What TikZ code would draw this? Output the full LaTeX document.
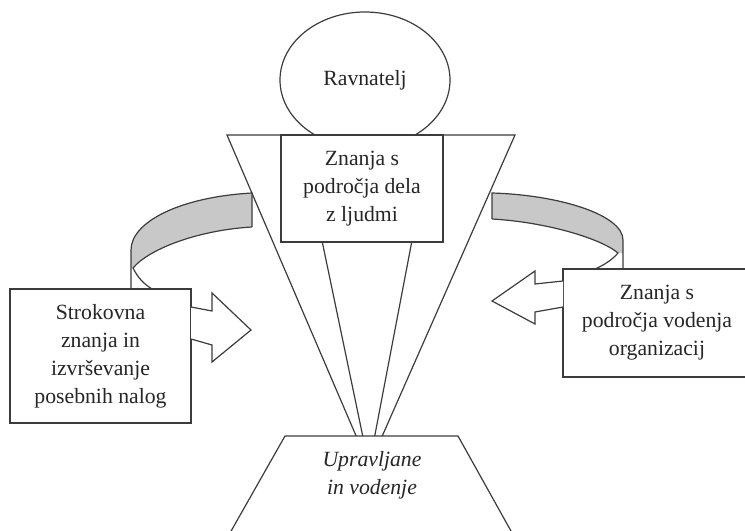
\documentclass[tikz,border=0pt]{standalone}
\usepackage{fontspec}
\setmainfont{Liberation Serif}
\usetikzlibrary{shapes.geometric}
\definecolor{linegray}{RGB}{60,60,60}
\definecolor{bandgray}{RGB}{200,200,200}
\tikzstyle{outline} = [draw=linegray, line width=1.2pt]
\tikzstyle{box} = [rectangle, outline, fill=white, text centered, inner sep=0pt]
\tikzstyle{head} = [ellipse, outline, fill=white, inner sep=0pt]
\tikzstyle{band} = [fill=bandgray]
\tikzstyle{blockarrow} = [outline, fill=white, line join=miter]

\begin{document}
\begin{tikzpicture}
			[x=1bp, y=-1bp, nodes={align=center, font=\fontsize{21.8}{28}\selectfont, text=black!85}]
			\useasboundingbox (0,0) rectangle (745,531);
			\node (ravnatelj) [head, minimum width=170bp, minimum height=136bp] at (365,80) {Ravnatelj};
			% funnel
			\coordinate (apex) at (369,466);
			\draw [outline, fill=white] (227,135) -- (515,135) -- (apex) -- cycle;
			\node (ljudi) [box, minimum width=162bp, minimum height=107bp] at (362,188.5) {Znanja s\\področja dela\\z ljudmi};
			\draw [outline] ([xshift=42bp]ljudi.south west) -- (apex);
			\draw [outline] ([xshift=-32bp]ljudi.south east) -- (apex);
			% base
			\draw [outline, fill=white] (285,436) -- (458,436) -- (516,540) -- (226,540) -- cycle;
			\node (vodenje) at (372,475) {\itshape Upravljane\\\itshape in vodenje};
			% side boxes
			\node (strokovna) [box, minimum width=181bp, minimum height=134bp] at (100.5,356) {Strokovna\\znanja in\\izvrševanje\\posebnih nalog};
			\node (organizacija) [box, minimum width=188bp, minimum height=108bp] at (657,323) {Znanja s\\področja vodenja\\organizacij};
			% left band
			\fill [band] (252,193) .. controls (180,197) and (131,222) .. (131,250) -- (131,268) -- (133,268) .. controls (150,248) and (200,230) .. (252,227) -- cycle;
			\draw [outline] (252,227) -- (252,193) .. controls (180,197) and (131,222) .. (131,250) -- (131,289);
			\draw [outline] (252,227) .. controls (200,230) and (150,248) .. (133,268) .. controls (138,278) and (144,284) .. (152,289);
			% right band
			\fill [band] (492,193) .. controls (560,195) and (623,215) .. (623,240) -- (623,253) -- (618,253) .. controls (600,238) and (545,222) .. (492,219) -- cycle;
			\draw [outline] (492,219) -- (492,193) .. controls (560,195) and (623,215) .. (623,240) -- (623,269);
			\draw [outline] (492,219) .. controls (545,222) and (600,238) .. (618,253) .. controls (612,260) and (604,265) .. (595,269);
			% block arrows
			\draw [blockarrow] (191,307) -- (212,311) -- (212,293) -- (251,330) -- (212,362) -- (212,345) -- (191,339);
			\draw [blockarrow] (563,281) -- (535,284) -- (535,271) -- (492,301) -- (535,324) -- (535,312) -- (563,307);
		\end{tikzpicture}
\end{document}
